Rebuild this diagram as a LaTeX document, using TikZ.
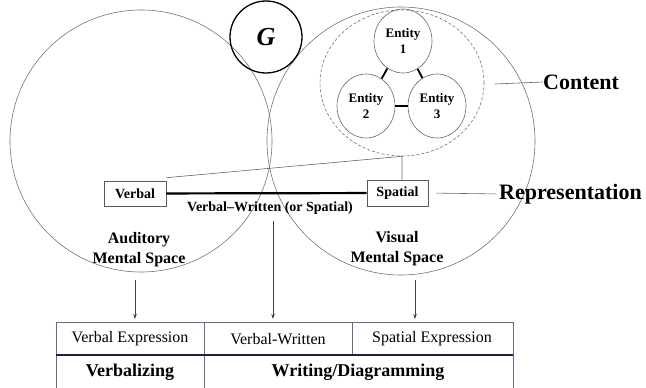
\documentclass[tikz,border=0pt]{standalone}
\usepackage{fontspec}
\setmainfont{Liberation Serif}
\usetikzlibrary{shapes.geometric,arrows.meta}
\definecolor{tabgray}{RGB}{105,105,135}
\definecolor{tabnavy}{RGB}{30,32,80}

\begin{document}
\begin{tikzpicture}[x=1pt,y=-1pt,
    space/.style={circle,draw=black!55,line width=0.6pt,inner sep=0pt},
    entity/.style={ellipse,draw=black!60,line width=0.6pt,inner sep=0pt,
        minimum width=58pt,minimum height=64pt,align=center,
        font=\fontsize{13}{16}\selectfont\bfseries},
    entlink/.style={line width=1.8pt},
    repbox/.style={draw=black!65,line width=0.6pt,inner sep=0pt,
        minimum width=62pt,minimum height=25pt,
        font=\fontsize{14}{16}\selectfont\bfseries},
    spacelbl/.style={align=center,font=\fontsize{16}{20}\selectfont\bfseries},
    biglbl/.style={anchor=west,inner sep=0pt,font=\fontsize{22}{24}\selectfont\bfseries},
    thinline/.style={draw=black!60,line width=0.6pt},
    arr/.style={draw=black!75,line width=0.7pt,-{Stealth[length=5pt,width=3.5pt]}},
    tabline/.style={draw=tabgray,line width=0.7pt}
]
    \useasboundingbox (0,0) rectangle (646,388);

    % Mental spaces and G
    \node[space,minimum size=262pt] (aud) at (141,141) {};
    \node[space,minimum size=268pt] (vis) at (401,141) {};
    \node[circle,draw,line width=1.3pt,minimum size=72pt,inner sep=0pt,
          font=\fontsize{26}{28}\selectfont\bfseries\itshape] (g) at (266,37) {G};

    % Content: three entities
    \node[ellipse,draw=black!55,dash pattern=on 3pt off 2pt,line width=0.6pt,
          minimum width=164pt,minimum height=146pt] (content) at (402,83) {};
    \foreach \n/\px/\py in {1/403/41,2/366/106,3/437/106}
        \node[entity] (e\n) at (\px,\py) {Entity\\\n};
    \draw[entlink] (e1) -- (e2);
    \draw[entlink] (e1) -- (e3);
    \draw[entlink] (e2) -- (e3);

    % Representation
    \node[repbox] (verbal) at (135,193.5) {Verbal};
    \node[repbox,minimum width=61pt,minimum height=26pt] (spatial) at (397.5,193) {Spatial};
    \draw[line width=2.2pt] (verbal) -- (spatial);
    \node[font=\fontsize{14}{16}\selectfont\bfseries,inner sep=0pt] (vwlbl) at (270,208)
        {Verbal--Written (or Spatial)};
    \draw[thinline] ([yshift=3pt]verbal.north east) -- (content.south)
        -- (content.south |- spatial.north);

    % Labels on the right
    \node[biglbl] (contentlbl) at (543,82) {Content};
    \coordinate (cfree) at (495,84);
    \draw[thinline] (cfree) -- (contentlbl.west);
    \node[biglbl] (replbl) at (499,194) {Representation};
    \draw[thinline,shorten <=8pt,shorten >=3pt] (spatial.east) -- (replbl.west);

    \node[spacelbl] (audlbl) at (139,250) {Auditory\\Mental Space};
    \node[spacelbl] (vislbl) at (397,249) {Visual\\Mental Space};

    % Table of expressions
    \draw[tabline] (56,388) -- (56,322) -- (513,322) -- (513,388);
    \draw[tabline] (204,322) -- (204,388);
    \draw[tabline] (352,322) -- (352,355);
    \draw[draw=tabnavy,line width=1.2pt] (56,355) -- (513,355);
    \node[font=\fontsize{16}{18}\selectfont] (t1) at (130,339) {Verbal Expression};
    \node[font=\fontsize{16}{18}\selectfont] (t2) at (278,339) {Verbal-Written};
    \node[font=\fontsize{16}{18}\selectfont] (t3) at (432,339) {Spatial Expression};
    \node[font=\fontsize{18}{20}\selectfont\bfseries] (b1) at (130,372) {Verbalizing};
    \node[font=\fontsize{18}{20}\selectfont\bfseries] (b2) at (358,372) {Writing/Diagramming};

    % Arrows down to the table
    \coordinate (a1) at (135,280);
    \coordinate (a2) at (273,221);
    \coordinate (a3) at (415,280);
    \draw[arr] (a1) -- (a1 |- 0,319);
    \draw[arr] (a2) -- (a2 |- 0,319);
    \draw[arr] (a3) -- (a3 |- 0,319);
\end{tikzpicture}
\end{document}
